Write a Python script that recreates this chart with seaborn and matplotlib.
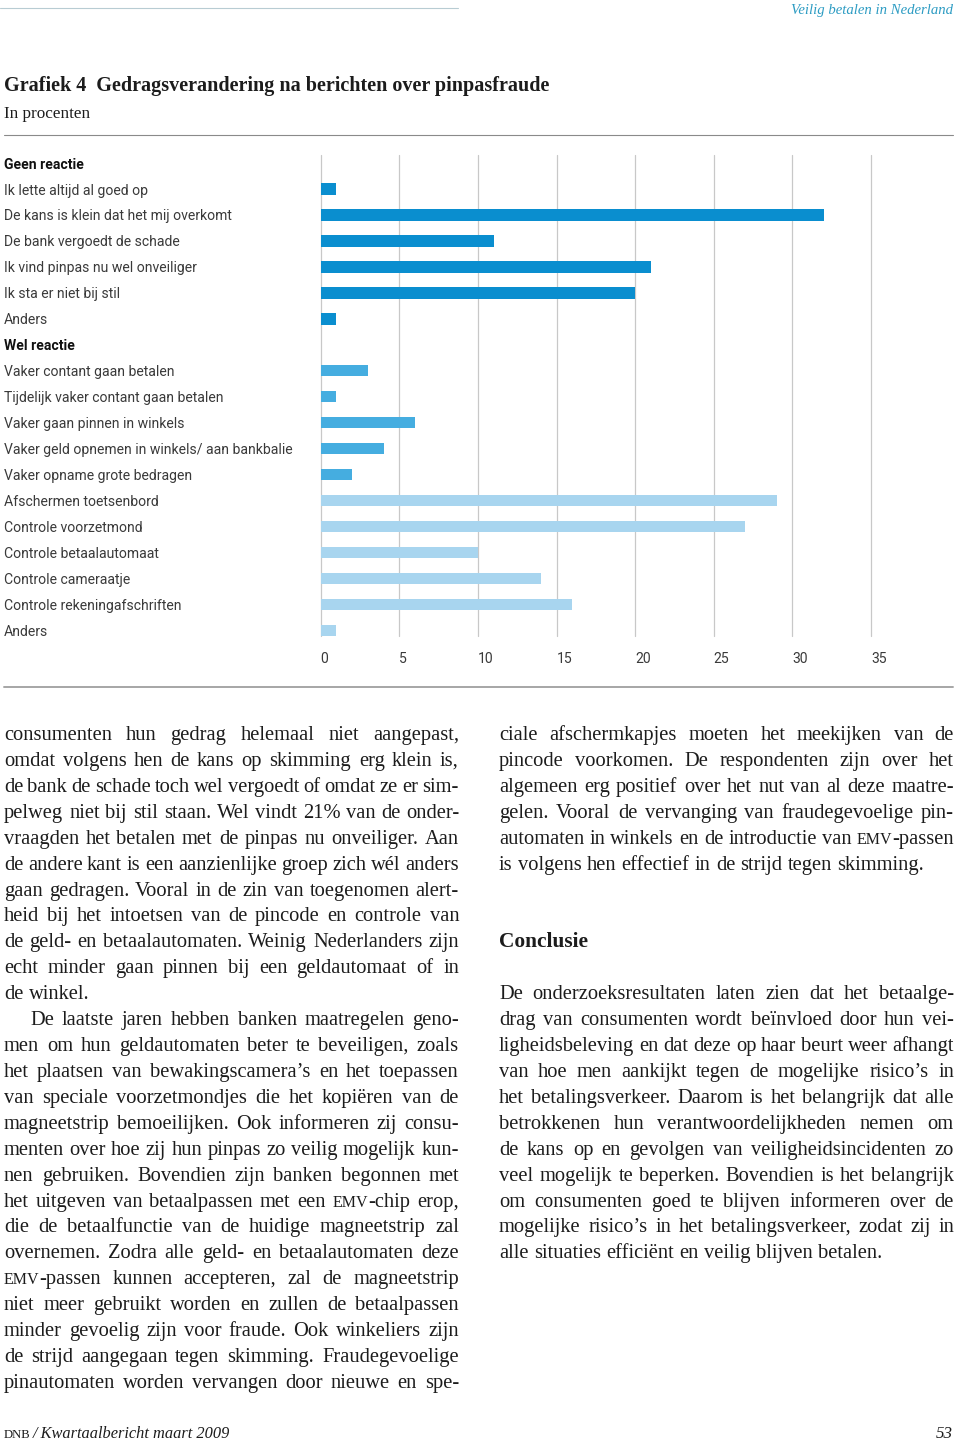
import matplotlib
matplotlib.use("Agg")
import matplotlib.pyplot as plt
import seaborn as sns
import pandas as pd

# ---------------- data ----------------
header_geen = "Geen reactie"
geen_labels = ["Ik lette altijd al goed op", "De kans is klein dat het mij overkomt",
               "De bank vergoedt de schade", "Ik vind pinpas nu wel onveiliger",
               "Ik sta er niet bij stil", "Anders"]
geen_values = [1, 32, 11, 21, 20, 1]

header_wel = "Wel reactie"
wel_gedrag_labels = ["Vaker contant gaan betalen", "Tijdelijk vaker contant gaan betalen",
                     "Vaker gaan pinnen in winkels", "Vaker geld opnemen in winkels/ aan bankbalie",
                     "Vaker opname grote bedragen"]
wel_gedrag_values = [3, 1, 6, 4, 2]
wel_controle_labels = ["Afschermen toetsenbord", "Controle voorzetmond", "Controle betaalautomaat",
                       "Controle cameraatje", "Controle rekeningafschriften", "Anders"]
wel_controle_values = [29, 27, 10, 14, 16, 1]

x_ticks = [0, 5, 10, 15, 20, 25, 30, 35]

title = "Grafiek 4  Gedragsverandering na berichten over pinpasfraude"
subtitle = "In procenten"
running_head = "Veilig betalen in Nederland"
footer_sc = "DNB"
footer_rest = "/ Kwartaalbericht maart 2009"
page_no = "53"
conclusie = "Conclusie"

left_column = [
    ("consumenten hun gedrag helemaal niet aangepast,", True, 0),
    ("omdat volgens hen de kans op skimming erg klein is,", True, 0),
    ("de bank de schade toch wel vergoedt of omdat ze er sim-", True, 0),
    ("pelweg niet bij stil staan. Wel vindt 21% van de onder-", True, 0),
    ("vraagden het betalen met de pinpas nu onveiliger. Aan", True, 0),
    ("de andere kant is een aanzienlijke groep zich wél anders", True, 0),
    ("gaan gedragen. Vooral in de zin van toegenomen alert-", True, 0),
    ("heid bij het intoetsen van de pincode en controle van", True, 0),
    ("de geld- en betaalautomaten. Weinig Nederlanders zijn", True, 0),
    ("echt minder gaan pinnen bij een geldautomaat of in", True, 0),
    ("de winkel.", False, 0),
    ("De laatste jaren hebben banken maatregelen geno-", True, 26),
    ("men om hun geldautomaten beter te beveiligen, zoals", True, 0),
    ("het plaatsen van bewakingscamera’s en het toepassen", True, 0),
    ("van speciale voorzetmondjes die het kopiëren van de", True, 0),
    ("magneetstrip bemoeilijken. Ook informeren zij consu-", True, 0),
    ("menten over hoe zij hun pinpas zo veilig mogelijk kun-", True, 0),
    ("nen gebruiken. Bovendien zijn banken begonnen met", True, 0),
    ("het uitgeven van betaalpassen met een EMV-chip erop,", True, 0),
    ("die de betaalfunctie van de huidige magneetstrip zal", True, 0),
    ("overnemen. Zodra alle geld- en betaalautomaten deze", True, 0),
    ("EMV-passen kunnen accepteren, zal de magneetstrip", True, 0),
    ("niet meer gebruikt worden en zullen de betaalpassen", True, 0),
    ("minder gevoelig zijn voor fraude. Ook winkeliers zijn", True, 0),
    ("de strijd aangegaan tegen skimming. Fraudegevoelige", True, 0),
    ("pinautomaten worden vervangen door nieuwe en spe-", True, 0),
]
right_column_1 = [
    ("ciale afschermkapjes moeten het meekijken van de", True, 0),
    ("pincode voorkomen. De respondenten zijn over het", True, 0),
    ("algemeen erg positief over het nut van al deze maatre-", True, 0),
    ("gelen. Vooral de vervanging van fraudegevoelige pin-", True, 0),
    ("automaten in winkels en de introductie van EMV-passen", True, 0),
    ("is volgens hen effectief in de strijd tegen skimming.", False, 0),
]
right_column_2 = [
    ("De onderzoeksresultaten laten zien dat het betaalge-", True, 0),
    ("drag van consumenten wordt beïnvloed door hun vei-", True, 0),
    ("ligheidsbeleving en dat deze op haar beurt weer afhangt", True, 0),
    ("van hoe men aankijkt tegen de mogelijke risico’s in", True, 0),
    ("het betalingsverkeer. Daarom is het belangrijk dat alle", True, 0),
    ("betrokkenen hun verantwoordelijkheden nemen om", True, 0),
    ("de kans op en gevolgen van veiligheidsincidenten zo", True, 0),
    ("veel mogelijk te beperken. Bovendien is het belangrijk", True, 0),
    ("om consumenten goed te blijven informeren over de", True, 0),
    ("mogelijke risico’s in het betalingsverkeer, zodat zij in", True, 0),
    ("alle situaties efficiënt en veilig blijven betalen.", False, 0),
]

# ---------------- styling ----------------
W, H, DPI = 960, 1443, 100
sns.set_style("white")
plt.rcParams["font.family"] = ["Liberation Serif", "DejaVu Serif"]
SERIF = "Liberation Serif"
SANS = "Roboto"
TXT = "#1c1c1c"
LABEL_COL = "#3a3a3a"
palette = {"geen": "#0A8ECF", "gedrag": "#45ADE0", "controle": "#A8D5EF"}


def px2pt(px):
    return px * 72.0 / DPI


fig = plt.figure(figsize=(W / DPI, H / DPI), dpi=DPI)
ov = fig.add_axes([0, 0, 1, 1], zorder=0)
ov.set_xlim(0, W)
ov.set_ylim(H, 0)
ov.axis("off")
renderer = fig.canvas.get_renderer()


def measure(s, size_pt, **kw):
    t = ov.text(0, 100, s, fontsize=size_pt, **kw)
    w = t.get_window_extent(renderer).width
    t.remove()
    return w


def fit_text(x, y, s, width, ha="left", **kw):
    w = measure(s, 10, **kw)
    return ov.text(x, y, s, fontsize=10 * width / w, ha=ha, va="baseline", **kw)


# ---------------- chart data frame ----------------
labels_all = ([header_geen] + geen_labels + [header_wel] + wel_gedrag_labels
              + wel_controle_labels)
keys = [f"r{i:02d}" for i in range(len(labels_all))]
records = []
i = 1
for v in geen_values:
    records.append((keys[i], v, "geen")); i += 1
i += 1
for v in wel_gedrag_values:
    records.append((keys[i], v, "gedrag")); i += 1
for v in wel_controle_values:
    records.append((keys[i], v, "controle")); i += 1
df = pd.DataFrame(records, columns=["row", "value", "group"])

# chart axes placement (pixels)
ax_l, ax_r, ax_t, ax_b = 320.7, 871.0, 155.0, 636.0
ax = fig.add_axes([ax_l / W, 1 - ax_b / H, (ax_r - ax_l) / W, (ax_b - ax_t) / H], zorder=2)
ax.patch.set_alpha(0)

sns.barplot(data=df, x="value", y="row", hue="group", order=keys,
            hue_order=["geen", "gedrag", "controle"], palette=palette,
            dodge=False, width=0.44, orient="h", saturation=1, legend=False,
            linewidth=0, ax=ax)

ax.set_xlim(0, 35)
ax.set_ylim(18.22, -0.31)
for s in ax.spines.values():
    s.set_visible(False)
ax.set_xlabel("")
ax.set_ylabel("")
ax.xaxis.grid(True, color="#c8c8c8", linewidth=0.9)
ax.yaxis.grid(False)
ax.set_axisbelow(True)

# label size fitted to reference width of widest label
lab_pt = 10 * 289 / measure("Vaker geld opnemen in winkels/ aan bankbalie", 10,
                            family=SANS)
ax.set_yticks(range(len(labels_all)))
ax.set_yticklabels(labels_all, ha="left", fontsize=lab_pt, family=SANS,
                   color=LABEL_COL)
for lbl in ax.get_yticklabels():
    if lbl.get_text() in (header_geen, header_wel):
        lbl.set_fontweight("bold")
        lbl.set_color("#111111")
ax.tick_params(axis="y", length=0, pad=px2pt(ax_l - 4))
ax.set_xticks(x_ticks)
ax.set_xticklabels([str(t) for t in x_ticks], ha="left", fontsize=lab_pt,
                   family=SANS, color=LABEL_COL)
ax.tick_params(axis="x", length=0, pad=px2pt(16))
for gl in ax.get_xgridlines():
    gl.set_clip_on(False)

# ---------------- page decorations ----------------
ov.plot([0, 458], [8, 8], color="#b8ccd3", lw=0.8)
ov.plot([4, 953], [135, 135], color="#8a8a8a", lw=0.8)
ov.plot([4, 953], [687, 687], color="#a6a6a6", lw=1.4)

fit_text(953, 14, running_head, 163, ha="right", family=SERIF, style="italic", color="#2d9cc3")
fit_text(4, 91, title, 547, family=SERIF, fontweight="bold", color=TXT)
fit_text(4, 118, subtitle, 86, family=SERIF, color=TXT)
fit_text(4, 1438, footer_sc, 27, family=SERIF, color=TXT)
fit_text(33, 1438, footer_rest, 198, family=SERIF, style="italic", color=TXT)
ov.text(953, 1438, page_no, ha="right", va="baseline", family=SERIF, style="italic",
        fontsize=px2pt(17), color=TXT)

# ---------------- body text (justified) ----------------
REF = 20.0
cache = {}


def segments(word):
    if word.startswith("EMV"):
        rest = word[3:]
        return [("EMV", 0.78)] + ([(rest, 1.0)] if rest else [])
    return [(word, 1.0)]


def seg_w(s, f):
    key = (s, f)
    if key not in cache:
        cache[key] = measure(s, px2pt(REF * f), family=SERIF) / REF
    return cache[key]


def word_w(word):
    return sum(seg_w(s, f) for s, f in segments(word))


space_w = seg_w("a a", 1.0) - seg_w("aa", 1.0)

col_w = 455.0
all_lines = left_column + right_column_1 + right_column_2
S = 22.0
for text, just, ind in all_lines:
    if not just:
        continue
    words = text.split()
    need = sum(word_w(w) for w in words) + (len(words) - 1) * space_w * 0.8
    S = min(S, (col_w - ind) / need)


def draw_line(x0, ybase, text, justify, indent):
    words = text.split()
    ws = [word_w(w) * S for w in words]
    avail = col_w - indent
    if justify and len(words) > 1:
        gap = (avail - sum(ws)) / (len(words) - 1)
    else:
        gap = space_w * S
    x = x0 + indent
    for w, wd in zip(words, ws):
        xx = x
        for s, f in segments(w):
            ov.text(xx, ybase, s, fontsize=px2pt(S * f), family=SERIF, color=TXT,
                    ha="left", va="baseline")
            xx += seg_w(s, f) * S
        x += wd + gap


LINE = 25.92
BASE0 = 740.0
for r, (t, j, ind) in enumerate(left_column):
    draw_line(4, BASE0 + r * LINE, t, j, ind)
for r, (t, j, ind) in enumerate(right_column_1):
    draw_line(499, BASE0 + r * LINE, t, j, ind)
fit_text(499, BASE0 + 8 * LINE, conclusie, 89, family=SERIF, fontweight="bold", color=TXT)
for r, (t, j, ind) in enumerate(right_column_2):
    draw_line(499, BASE0 + (10 + r) * LINE, t, j, ind)

fig.savefig("out.png", dpi=DPI)
